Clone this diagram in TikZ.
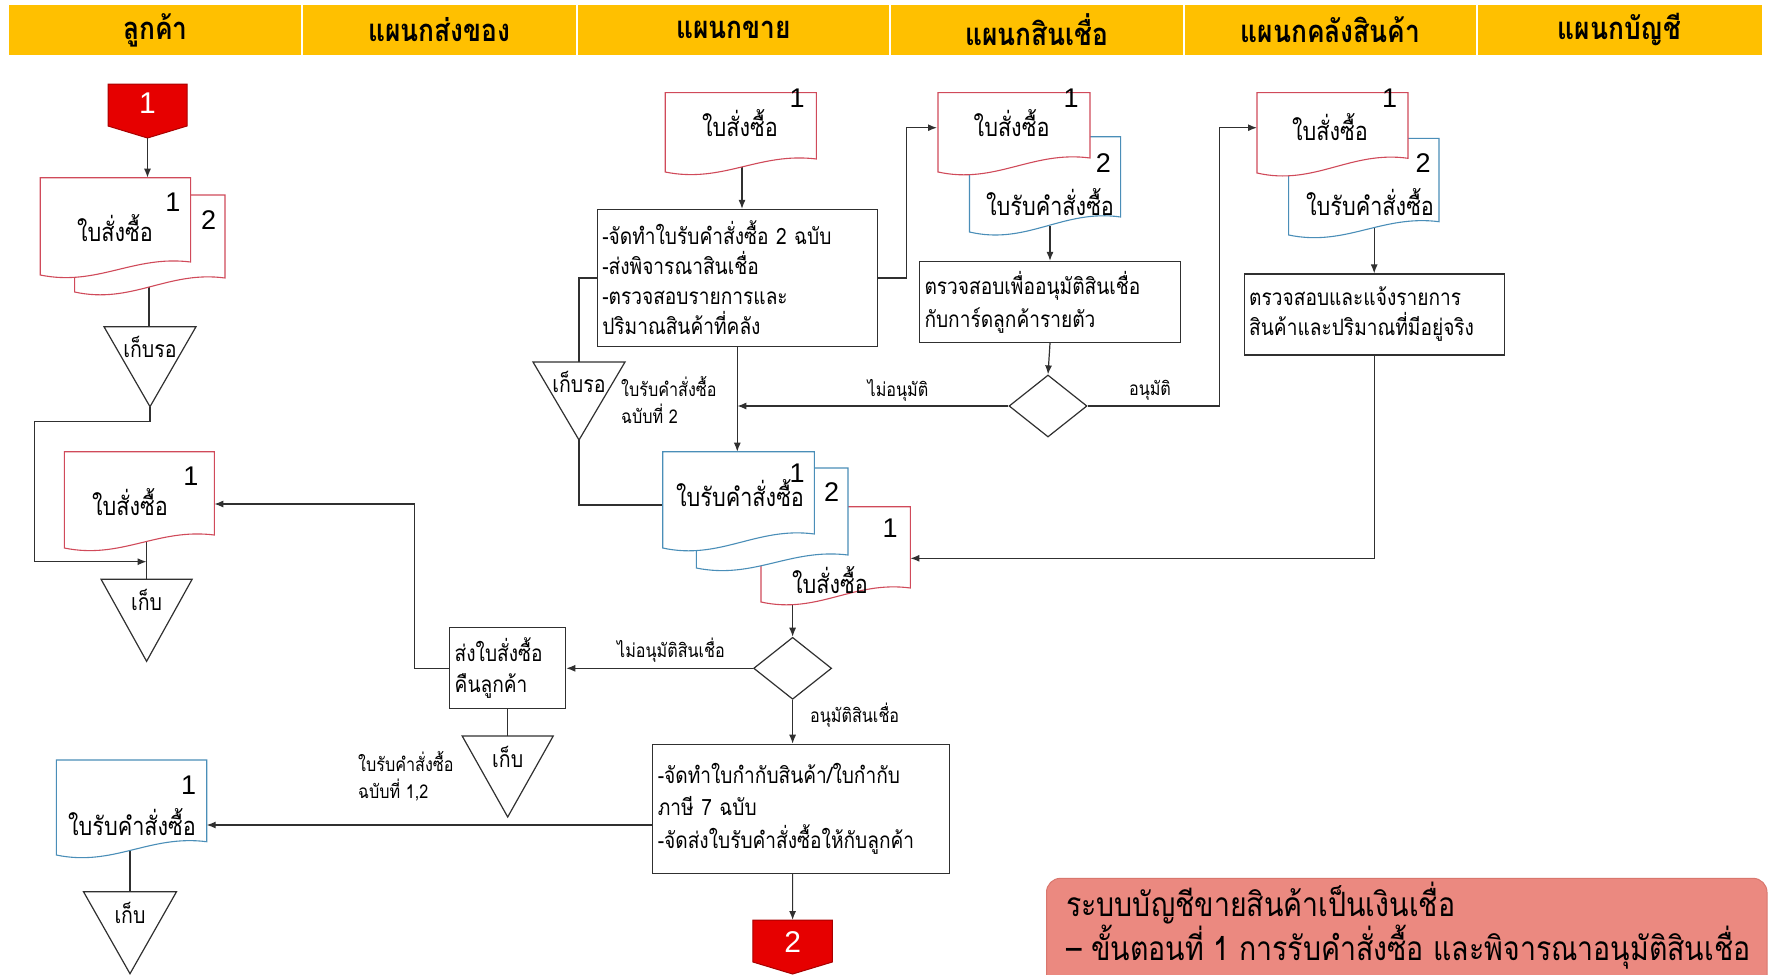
\documentclass[tikz,border=0pt]{standalone}
\usepackage{fontspec}
\setmainfont{Liberation Sans}
\newfontfamily\thai[Script=Thai, FakeStretch=0.85]{Loma}
\usetikzlibrary{arrows.meta,shapes.geometric}
\definecolor{hdr}{HTML}{FFC000}
\definecolor{docred}{HTML}{D04A5A}
\definecolor{docblue}{HTML}{4A8EB8}
\definecolor{conred}{HTML}{E60000}
\definecolor{conredb}{HTML}{A80000}
\definecolor{notefill}{HTML}{EB8980}
\definecolor{noteline}{HTML}{D9776E}
\definecolor{ln}{HTML}{303030}
\newcommand\DocShape[6]{%
  \filldraw[line width=1.1pt, draw=#6, fill=white] (#1,#2) -- (#3,#2) -- (#3,#4)
    .. controls ({#1+0.62*(#3-#1)},{#4-0.55*(#5-#4)}) and ({#1+0.38*(#3-#1)},{#5+0.9*(#5-#4)}) .. (#1,#5) -- cycle;}
\newcommand\StoreTri[5]{%
  \coordinate (#1-top) at (#2,#3);
  \coordinate (#1-apex) at (#2,{#3+#5});
  \filldraw[draw=ln, line width=1.2pt, fill=white] ({#2-#4},#3) -- ({#2+#4},#3) -- (#2,{#3+#5}) -- cycle;}
\newcommand\Connector[5]{% name, x1, x2, top, bottom of rect ; tip
  \filldraw[draw=conredb, line width=1pt, fill=conred] (#2,#4) -- (#3,#4) -- (#3,#5) -- ({(#2+#3)/2},{#5+12}) -- (#2,#5) -- cycle;
  \coordinate (#1-top) at ({(#2+#3)/2},#4);
  \coordinate (#1-tip) at ({(#2+#3)/2},{#5+12});}
\begin{document}
\begin{tikzpicture}[x=1pt,y=-1pt,
  hdrtxt/.style={font=\thai\bfseries\fontsize{31}{34}\selectfont, text=black},
  doctxt/.style={font=\thai\fontsize{25.5}{28}\selectfont, inner sep=0pt},
  num/.style={font=\fontsize{27}{30}\selectfont, inner sep=0pt},
  box/.style={draw=ln, line width=1.2pt, fill=white, align=left, inner xsep=5pt, inner ysep=0pt},
  boxfont/.style={font=\thai\fontsize{22.5}{#1}\selectfont},
  tritxt/.style={font=\thai\fontsize{23}{26}\selectfont, inner sep=0pt},
  lbl/.style={font=\thai\fontsize{19}{22}\selectfont, inner sep=0pt},
  small/.style={font=\thai\fontsize{19}{27}\selectfont, align=left, inner sep=0pt},
  conn/.style={draw=ln, line width=1.2pt},
  arr/.style={conn, -{Latex[length=9pt,width=7pt]}},
  dia/.style={diamond, draw=ln, line width=1.2pt, fill=white, minimum width=78pt, minimum height=62pt, inner sep=0pt}
]
\useasboundingbox (0,0) rectangle (1771,974);
\clip (0,0) rectangle (1771,974);
\fill[white] (0,0) rectangle (1771,974);

% ---------------- header
\fill[hdr] (9,5) rectangle (1762,55);
\foreach \xx in {302,577,890,1184,1477} \draw[white, line width=2pt] (\xx,5) -- (\xx,55);
\node[hdrtxt] (h1) at (155.5,30) {ลูกค้า};
\node[hdrtxt] (h2) at (439.5,30) {แผนกส่งของ};
\node[hdrtxt] (h3) at (733.5,30) {แผนกขาย};
\node[hdrtxt] (h4) at (1037,30) {แผนกสินเชื่อ};
\node[hdrtxt] (h5) at (1330.5,30) {แผนกคลังสินค้า};
\node[hdrtxt] (h6) at (1619.5,30) {แผนกบัญชี};

% ---------------- boxes and diamonds (nodes)
\node[box, boxfont=30, text width=270pt, minimum height=137pt] (sb) at (737.3,278)
  {-จัดทำใบรับคำสั่งซื้อ 2 ฉบับ\\-ส่งพิจารณาสินเชื่อ\\-ตรวจสอบรายการและ\\ปริมาณสินค้าที่คลัง};
\node[box, boxfont=33, text width=251pt, minimum height=81pt] (cb) at (1050,302)
  {ตรวจสอบเพื่ออนุมัติสินเชื่อ\\กับการ์ดลูกค้ารายตัว};
\node[box, boxfont=30, text width=250pt, minimum height=81pt] (wb) at (1374.2,314.5)
  {ตรวจสอบและแจ้งรายการ\\สินค้าและปริมาณที่มีอยู่จริง};
\node[box, boxfont=31, text width=106pt, minimum height=81pt] (rb) at (507.7,668.3)
  {ส่งใบสั่งซื้อ\\คืนลูกค้า};
\node[box, boxfont=32.5, text width=287pt, minimum height=129pt] (b2) at (801.3,808.8)
  {-จัดทำใบกำกับสินค้า/ใบกำกับ\\ภาษี 7 ฉบับ\\-จัดส่งใบรับคำสั่งซื้อให้กับลูกค้า};
\node[dia] (cd) at (1048,406) {};
\node[dia] (sd) at (792.6,668.3) {};

% ---------------- coordinates for documents
\coordinate (cd1top) at (147.5,177.7);
\coordinate (cd1bot) at (149,285);
\coordinate (lp1) at (150,421.7);
\coordinate (lp2) at (34.4,421.7);
\coordinate (lp3) at (34.4,561.7);
\coordinate (lpj) at (146.6,561.7);
\coordinate (cd2in) at (214.3,504);
\coordinate (cd2bot) at (146.6,540);
\coordinate (rbk) at (414.5,504);
\coordinate (cd3in) at (206.7,825);
\coordinate (cd3bot) at (130,850);
\coordinate (b2out) at (652.9,825);
\coordinate (sd0bot) at (742,160);
\coordinate (sbk) at (906.3,127.7);
\coordinate (crin) at (937,127.7);
\coordinate (sdbleft) at (663,505);
\coordinate (ssdtop) at (737.3,451.7);
\coordinate (crbot) at (1050,226);
\coordinate (wk) at (1219.3,127.7);
\coordinate (whin) at (1257,127.7);
\coordinate (whbot) at (1374.2,228);
\coordinate (srin) at (910.4,558.3);
\coordinate (srbot) at (792.6,596);
\coordinate (c2top) at (792.6,920);

% ---------------- connectors (drawn before documents)
\Connector{k1}{108}{187}{84}{126}
\Connector{k2}{752.9}{832.3}{920}{962}
\draw[arr] (k1-tip) -- (cd1top);
\draw[conn] (cd1bot) -- (149,326.7);
\draw[arr] (lp1) -- (lp2) -- (lp3) -- (lpj);
\draw[conn] (cd2bot) -- (146.6,579.3);
\draw[arr] (rb.west) -| (rbk) -- (cd2in);
\draw[conn] (rb.south) -- (507.7,736);
\draw[arr] (b2out) -- (cd3in);
\draw[conn] (cd3bot) -- (130,891.7);
\draw[arr] (sd0bot) -- (sd0bot |- sb.north);
\draw[arr] (sb.east) -| (sbk) -- (crin);
\draw[conn] (sb.west) -| (579,362);
\draw[conn] (579,440) |- (sdbleft);
\draw[arr] (sb.south) -- (ssdtop);
\draw[arr] (crbot) -- (cb.north);
\draw[arr] (cb.south) -- (cd.north);
\draw[arr] (cd.west) -- (cd.west -| sb.south);
\draw[arr] (cd.east) -| (wk) -- (whin);
\draw[arr] (whbot) -- (wb.north);
\draw[arr] (wb.south) |- (srin);
\draw[arr] (srbot) -- (sd.north);
\draw[arr] (sd.west) -- (rb.east);
\draw[arr] (sd.south) -- (sd.south |- b2.north);
\draw[arr] (c2top |- b2.south) -- (k2-top);

% ---------------- storage triangles
\StoreTri{ct1}{150}{326.7}{46}{80}
\StoreTri{ct2}{146.6}{579.3}{45.5}{82}
\StoreTri{ct3}{507.7}{736}{45.5}{81}
\StoreTri{ct4}{130}{891.7}{46.5}{82}
\StoreTri{st}{579}{362}{46}{78}
\draw[conn] (ct1-apex) -- (lp1);

% ---------------- documents
% customer
\DocShape{74.6}{195}{225}{278}{292}{docred}
\DocShape{40.2}{177.7}{190.6}{262}{275}{docred}
\DocShape{64.3}{451.7}{214.3}{535}{548}{docred}
\DocShape{56.3}{760}{206.7}{841.7}{855}{docblue}
% sales
\DocShape{665.2}{92.6}{816.4}{159}{172}{docred}
\DocShape{761}{506.7}{910.4}{588}{602}{docred}
\DocShape{696.3}{468}{848}{555}{568}{docblue}
\DocShape{662.7}{451.7}{814.4}{534}{548}{docblue}
% credit
\DocShape{969.5}{136.7}{1120.6}{217}{232}{docblue}
\DocShape{938}{92.6}{1090}{158}{172}{docred}
% warehouse
\DocShape{1288.6}{138.3}{1439}{221.7}{235}{docblue}
\DocShape{1257}{92.6}{1408}{158.3}{173}{docred}

% ---------------- document texts
\node[num, text=white, font=\fontsize{30}{32}\selectfont] (k1t) at (147.5,103) {1};
\node[num, text=white, font=\fontsize{30}{32}\selectfont] (k2t) at (792.6,941.7) {2};
\node[doctxt] (t1) at (115,228) {ใบสั่งซื้อ};
\node[num] (t1a) at (173,202) {1};
\node[num] (t1b) at (208.6,220) {2};
\node[doctxt] (t2) at (130,501.7) {ใบสั่งซื้อ};
\node[num] (t2a) at (191,476.7) {1};
\node[doctxt] (t3) at (132,821.7) {ใบรับคำสั่งซื้อ};
\node[num] (t3a) at (188.7,785) {1};
\node[doctxt] (t4) at (740,123.3) {ใบสั่งซื้อ};
\node[num] (t4a) at (797,98.3) {1};
\node[doctxt] (t5) at (740,493) {ใบรับคำสั่งซื้อ};
\node[num] (t5a) at (797,473) {1};
\node[num] (t5b) at (831.7,491.7) {2};
\node[num] (t6a) at (890,528.3) {1};
\node[doctxt] (t6) at (830,580) {ใบสั่งซื้อ};
\node[doctxt] (t7) at (1011.6,123) {ใบสั่งซื้อ};
\node[num] (t7a) at (1071,98) {1};
\node[num] (t7b) at (1103.4,163) {2};
\node[doctxt] (t8) at (1050,201.7) {ใบรับคำสั่งซื้อ};
\node[doctxt] (t9) at (1330,126.7) {ใบสั่งซื้อ};
\node[num] (t9a) at (1389.6,98.3) {1};
\node[num] (t9b) at (1423,163.3) {2};
\node[doctxt] (t10) at (1370,201.7) {ใบรับคำสั่งซื้อ};

% ---------------- triangle texts
\node[tritxt] (g1) at (150,346.7) {เก็บรอ};
\node[tritxt] (g2) at (146.6,600) {เก็บ};
\node[tritxt] (g3) at (507.7,756.7) {เก็บ};
\node[tritxt] (g4) at (130,913.3) {เก็บ};
\node[tritxt] (g5) at (579,381.7) {เก็บรอ};

% ---------------- labels
\node[lbl] (l1) at (898,390) {ไม่อนุมัติ};
\node[lbl] (l2) at (1150,390) {อนุมัติ};
\node[lbl] (l3) at (671,650) {ไม่อนุมัติสินเชื่อ};
\node[lbl, anchor=west] (l4) at (810,715) {อนุมัติสินเชื่อ};
\node[small, anchor=west] (l5) at (621,400) {ใบรับคำสั่งซื้อ\\ฉบับที่ 2};
\node[small, anchor=west] (l6) at (358,776.4) {ใบรับคำสั่งซื้อ\\ฉบับที่ 1,2};

% ---------------- note
\filldraw[draw=noteline, fill=notefill, line width=1pt, rounded corners=14pt] (1046.5,878.3) rectangle (1767,1010);
\node[font=\thai\fontsize{33.5}{33}\selectfont, align=left, anchor=west, inner sep=0pt] (note) at (1066,926)
  {ระบบบัญชีขายสินค้าเป็นเงินเชื่อ\\– ขั้นตอนที่ 1 การรับคำสั่งซื้อ และพิจารณาอนุมัติสินเชื่อ};
\end{tikzpicture}
\end{document}
